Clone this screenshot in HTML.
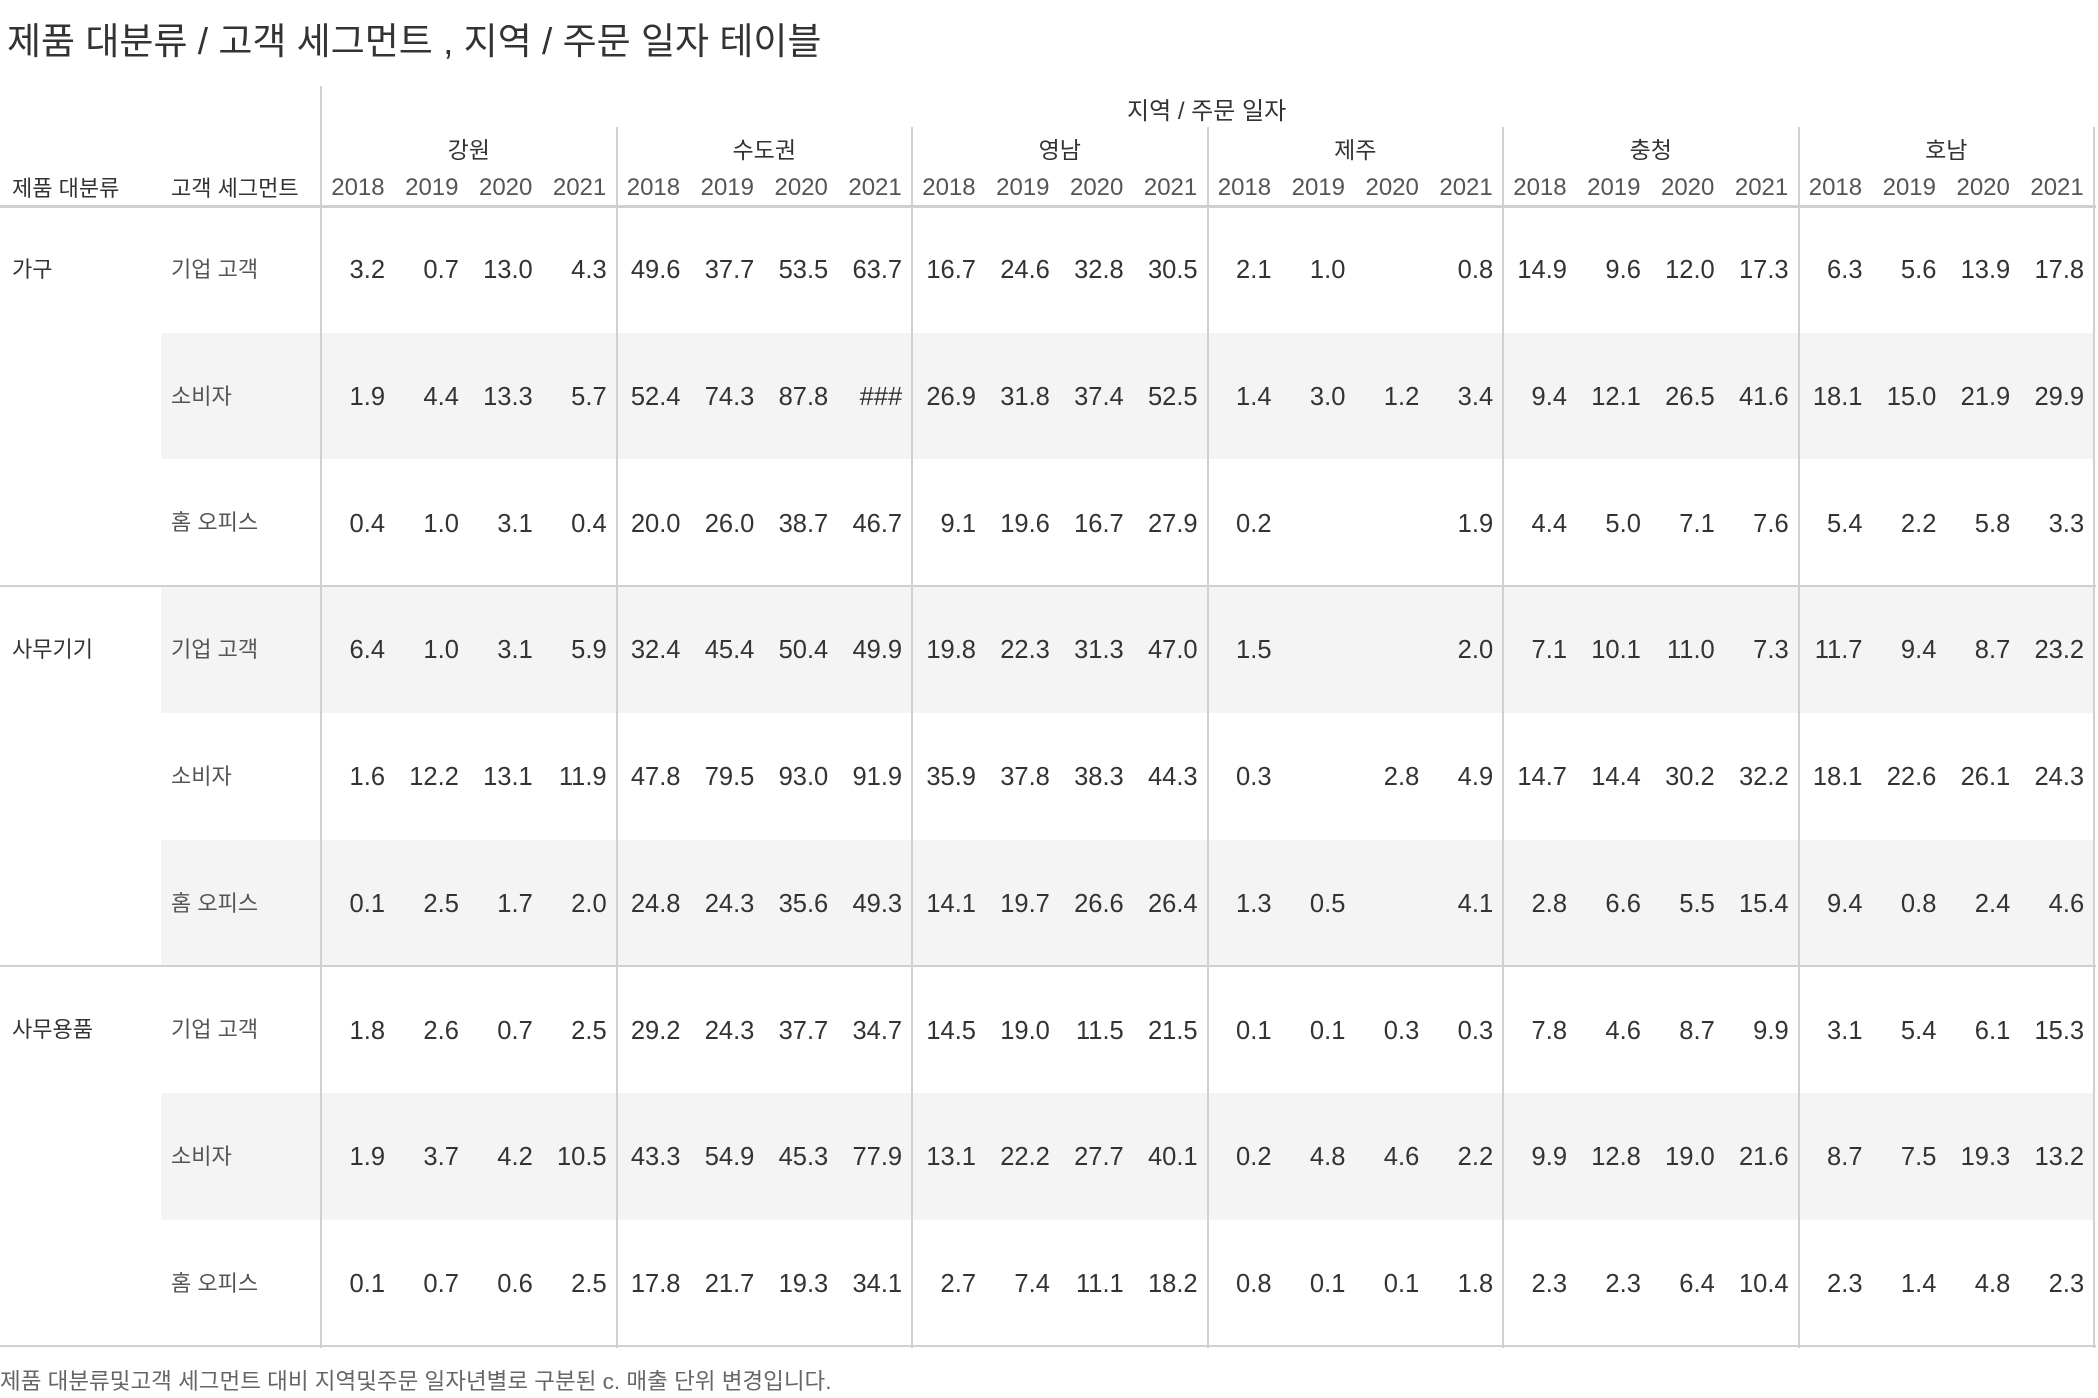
<!DOCTYPE html>
<html><head><meta charset="utf-8">
<style>
html,body{margin:0;padding:0;background:#fff;}
body{width:2098px;height:1398px;position:relative;overflow:hidden;font-family:"Liberation Sans","Noto Sans CJK KR",sans-serif;}
.a{position:absolute;white-space:nowrap;}
.ln{position:absolute;background:#d0d0d0;}
.v{position:absolute;font-size:25.5px;color:#333;text-align:right;width:74px;line-height:30px;}
</style></head><body>
<div class="a" style="left:7px;top:11px;font-size:37px;color:#333;">제품 대분류 / 고객 세그먼트 , 지역 / 주문 일자 테이블</div>
<div class="a" style="left:1127px;top:91px;font-size:24px;color:#333;">지역 / 주문 일자</div>
<div class="a" style="left:12px;top:171px;font-size:22px;color:#333;">제품 대분류</div>
<div class="a" style="left:171px;top:171px;font-size:22px;color:#333;">고객 세그먼트</div>
<div class="a" style="left:0px;top:1364px;font-size:22.5px;color:#666;">제품 대분류및고객 세그먼트 대비 지역및주문 일자년별로 구분된 c. 매출 단위 변경입니다.</div>
<div id="tbl"></div>
<script>
const regions=["강원","수도권","영남","제주","충청","호남"];
const years=["2018","2019","2020","2021"];
const categories=["가구","사무기기","사무용품"];
const segments=["기업 고객","소비자","홈 오피스"];
const row1=["3.2","0.7","13.0","4.3","49.6","37.7","53.5","63.7","16.7","24.6","32.8","30.5","2.1","1.0","","0.8","14.9","9.6","12.0","17.3","6.3","5.6","13.9","17.8"];
const row2=["1.9","4.4","13.3","5.7","52.4","74.3","87.8","###","26.9","31.8","37.4","52.5","1.4","3.0","1.2","3.4","9.4","12.1","26.5","41.6","18.1","15.0","21.9","29.9"];
const row3=["0.4","1.0","3.1","0.4","20.0","26.0","38.7","46.7","9.1","19.6","16.7","27.9","0.2","","","1.9","4.4","5.0","7.1","7.6","5.4","2.2","5.8","3.3"];
const row4=["6.4","1.0","3.1","5.9","32.4","45.4","50.4","49.9","19.8","22.3","31.3","47.0","1.5","","","2.0","7.1","10.1","11.0","7.3","11.7","9.4","8.7","23.2"];
const row5=["1.6","12.2","13.1","11.9","47.8","79.5","93.0","91.9","35.9","37.8","38.3","44.3","0.3","","2.8","4.9","14.7","14.4","30.2","32.2","18.1","22.6","26.1","24.3"];
const row6=["0.1","2.5","1.7","2.0","24.8","24.3","35.6","49.3","14.1","19.7","26.6","26.4","1.3","0.5","","4.1","2.8","6.6","5.5","15.4","9.4","0.8","2.4","4.6"];
const row7=["1.8","2.6","0.7","2.5","29.2","24.3","37.7","34.7","14.5","19.0","11.5","21.5","0.1","0.1","0.3","0.3","7.8","4.6","8.7","9.9","3.1","5.4","6.1","15.3"];
const row8=["1.9","3.7","4.2","10.5","43.3","54.9","45.3","77.9","13.1","22.2","27.7","40.1","0.2","4.8","4.6","2.2","9.9","12.8","19.0","21.6","8.7","7.5","19.3","13.2"];
const row9=["0.1","0.7","0.6","2.5","17.8","21.7","19.3","34.1","2.7","7.4","11.1","18.2","0.8","0.1","0.1","1.8","2.3","2.3","6.4","10.4","2.3","1.4","4.8","2.3"];
const rows=[row1,row2,row3,row4,row5,row6,row7,row8,row9];

const T=document.getElementById('tbl');
const X0=321, RW=295.5, CW=RW/4, Y0=206, RH=126.7;
function add(html){const d=document.createElement('div');d.innerHTML=html;const e=d.firstChild;T.appendChild(e);return e;}
for(let r=0;r<rows.length;r++){
  if(r%2===1){
    const b=add('<div class="a"></div>');
    
    
    b.style.cssText=`left:161px;top:${Y0+r*RH}px;width:${2094-161}px;height:${RH}px;background:#f4f4f4;`;
  }
}
function line(name,l,t,w,h){const e=add('<div class="ln"></div>');
  
  
  e.style.left=l+'px';e.style.top=t+'px';e.style.width=w+'px';e.style.height=h+'px';}
line('header-divider',0,Y0-1,2096,3);
line('table-left-border',X0-1,86,2,1348-86);
for(let i=1;i<=6;i++){line('region-divider',X0+i*RW-1,127,2,1348-127);}
line('category-divider',0,Y0+3*RH-1,2096,2);
line('category-divider',0,Y0+6*RH-1,2096,2);
line('table-bottom-border',0,Y0+9*RH-1,2096,2);
regions.forEach((rg,i)=>{
  const e=add('<div class="a"></div>');
  
  
  e.textContent=rg;
  e.style.cssText=`left:${X0+i*RW}px;width:${RW}px;text-align:center;top:131px;font-size:23px;color:#333;`;
  years.forEach((y,j)=>{
    const t=add('<div class="a"></div>');
    
    
    t.textContent=y;
    t.style.cssText=`left:${X0+i*RW+j*CW}px;width:${CW}px;text-align:center;top:174px;font-size:24px;color:#555;`;
  });
});
categories.forEach((c,i)=>{
  const e=add('<div class="a"></div>');
  
  
  e.textContent=c;
  e.style.cssText=`left:12px;top:${Y0+i*3*RH+46}px;font-size:22px;color:#333;`;
});
for(let r=0;r<rows.length;r++){
  const s=add('<div class="a"></div>');
  
  
  s.textContent=segments[r%3];
  s.style.cssText=`left:171px;top:${Y0+r*RH+46}px;font-size:22px;color:#555;`;
  rows[r].forEach((v,k)=>{
    if(v==='')return;
    const reg=Math.floor(k/4), yi=k%4;
    const c=add('<div class="v"></div>');
    
    
    c.textContent=v;
    c.style.left=(X0+reg*RW+yi*CW-10)+'px';
    c.style.top=(Y0+r*RH+RH/2-14)+'px';
  });
}
</script>
</body></html>
